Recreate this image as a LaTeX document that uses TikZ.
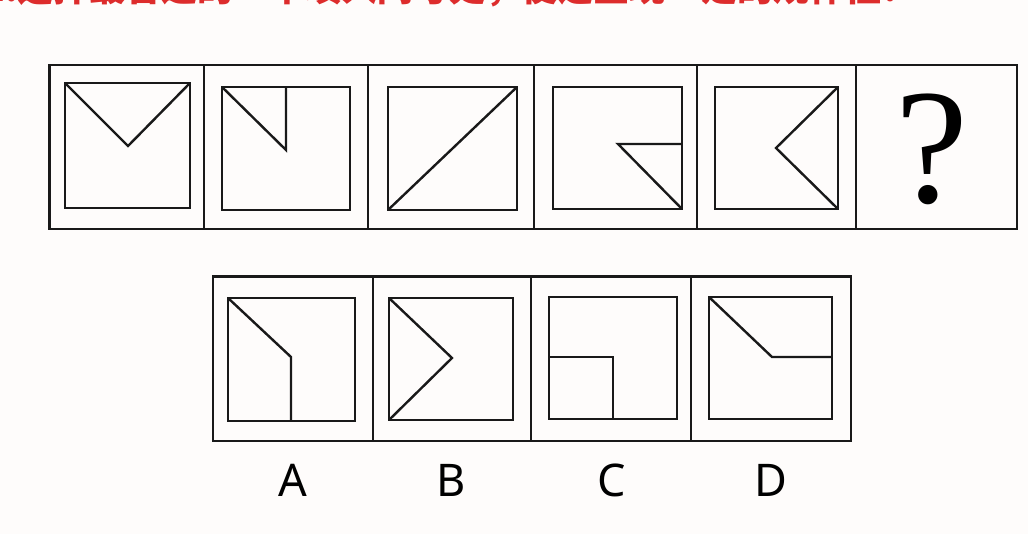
\documentclass[tikz,border=0pt]{standalone}
\usepackage{fontspec}
\newfontfamily\cjk{Noto Sans CJK SC}
\newfontfamily\optfont{Noto Sans}
\newfontfamily\qfont{Liberation Serif}
\definecolor{qred}{RGB}{221,44,44}
\definecolor{paper}{RGB}{254,252,251}

\begin{document}
\begin{tikzpicture}[x=1pt, y=-1pt,
frame/.style={draw=black!90, line width=2.4pt},
box/.style={draw=black!90, line width=2.8pt},
fig/.style={draw=black!90, line width=2.4pt},
choice/.style={font=\optfont\fontsize{45}{45}\selectfont, anchor=base, inner sep=0pt}
]
\useasboundingbox[fill=paper] (0,0) rectangle (1028,534);
%Title
\node[anchor=base west, inner sep=0pt, text=qred, font=\cjk\bfseries\fontsize{36}{36}\selectfont] (title) at (-17,1.8) {1.选择最合适的一个填入问号处，使之呈现一定的规律性！};
%Top row
\draw[frame] (49.5,65) rectangle (1017,229);
\foreach \x in {204,368,534,697,856}
  \draw[frame] (\x,65) -- (\x,229);
\draw[box] (65,83) rectangle (190,208);
\draw[fig] (65,83) -- (128,146) -- (190,83);
\draw[box] (222,87) rectangle (350,210);
\draw[fig] (222,87) -- (286,150) -- (286,87);
\draw[box] (388,87) rectangle (517,210);
\draw[fig] (388,210) -- (517,87);
\draw[box] (553,87) rectangle (682,209);
\draw[fig] (682,209) -- (618,144) -- (682,144);
\draw[box] (715,87) rectangle (838,209);
\draw[fig] (838,87) -- (776,148) -- (838,209);
\node[anchor=base, inner sep=0pt, font=\qfont\fontsize{164}{164}\selectfont] (qmark) at (932,203) {?};
%Options
\draw[frame] (212.7,276.7) rectangle (851,440.7);
\foreach \x in {372.7,531,691}
  \draw[frame] (\x,276.7) -- (\x,440.7);
\draw[box] (228,298) rectangle (355,421);
\draw[fig] (228,298) -- (291,357) -- (291,421);
\draw[box] (389,298) rectangle (513,420);
\draw[fig] (389,298) -- (452,358) -- (389,420);
\draw[box] (549,297) rectangle (677,419);
\draw[fig] (549,357) -- (613,357) -- (613,419);
\draw[box] (709,297) rectangle (832,419);
\draw[fig] (709,297) -- (772,357) -- (832,357);
%Labels
\node[choice] (optA) at (293,496) {A};
\node[choice] (optB) at (451,496) {B};
\node[choice] (optC) at (612,496) {C};
\node[choice] (optD) at (771,496) {D};
\end{tikzpicture}
\end{document}
